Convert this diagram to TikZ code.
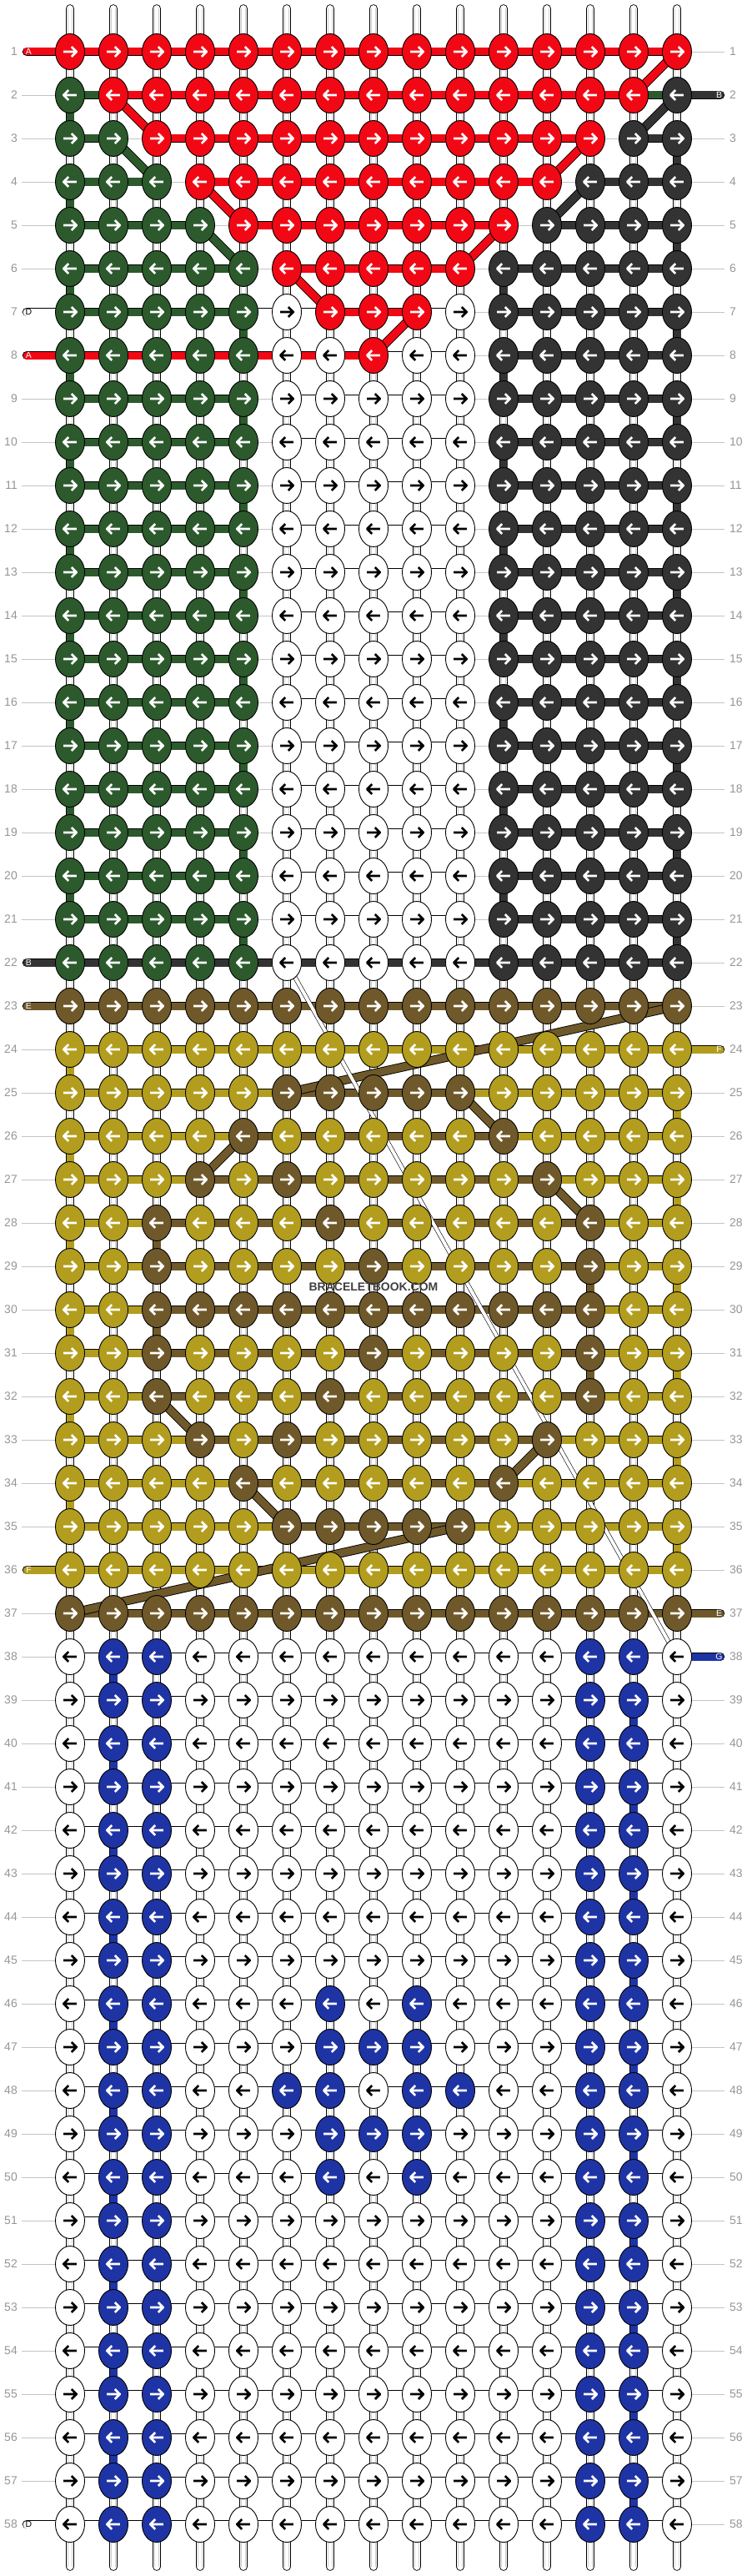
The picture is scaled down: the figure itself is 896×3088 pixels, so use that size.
\documentclass[tikz,border=0pt]{standalone}
\usepackage{fontspec}
\setmainfont{Liberation Sans}
\usetikzlibrary{shapes.geometric}
\definecolor{cR}{RGB}{242,8,20}
\definecolor{cG}{RGB}{44,90,45}
\definecolor{cK}{RGB}{51,51,51}
\definecolor{cW}{RGB}{255,255,255}
\definecolor{cO}{RGB}{178,157,30}
\definecolor{cN}{RGB}{111,89,42}
\definecolor{cB}{RGB}{31,52,164}
\colorlet{aR}{white}\colorlet{aG}{white}\colorlet{aK}{white}
\colorlet{aO}{white}\colorlet{aN}{white}\colorlet{aB}{white}\colorlet{aW}{black}
\definecolor{lblc}{RGB}{150,150,150}
\definecolor{rowlc}{RGB}{196,196,196}
\definecolor{innerc}{RGB}{205,205,205}
\definecolor{wmc}{RGB}{64,64,64}
\def\noneX{X}
\newcommand\knotrow[2]{%
  \foreach \kc [count=\c] in {#2} {%
    \pgfmathtruncatemacro\dir{1-2*mod(#1+1,2)}%
    \node[knot=\kc] (k-#1-\c) at (p-#1-\c) {};
    \draw[arrw, draw=a\kc, shift={(p-#1-\c)}, xscale=\dir] (-7.8,0) -- (7.0,0) (1.8,-6) -- (7.8,0) -- (1.8,6);
  }}
\newcommand\barrow[2]{%
  \foreach \bc [count=\c] in {#2} {%
    \edef\tmpb{\bc}%
    \ifx\tmpb\noneX\else
      \pgfmathtruncatemacro\cn{\c+1}%
      \path[bar=\bc] (p-#1-\c) -- (p-#1-\cn);
    \fi
  }}
\newcommand\vbar[3]{%
  \pgfmathtruncatemacro\rn{#2+1}%
  \path[bar=#1] (p-#2-#3) -- (p-\rn-#3);}
\newcommand\pillL[4]{%
  \coordinate (pl-#1) at (32.2,{10+52*#1});
  \path[bar=#2, line cap=round] (pl-#1) -- (p-#1-1);
  \node[pilltxt, text=#4] (pt-#1) at (34.5,{10+52*#1}) {#3};}
\newcommand\pillR[4]{%
  \coordinate (pr-#1) at (863.8,{10+52*#1});
  \path[bar=#2, line cap=round] (pr-#1) -- (p-#1-15);
  \node[pilltxt, text=#4] (pt-#1) at (862.5,{10+52*#1}) {#3};}
\begin{document}
\begin{tikzpicture}[x=1pt,y=-1pt,
  knot/.style={ellipse, draw=black, line width=0.9pt, fill=c#1, minimum width=35pt, minimum height=43pt, inner sep=0pt, outer sep=0pt},
  bar/.style={draw=black, line width=0.9pt, double=c#1, double distance=9pt},
  arrw/.style={line width=2.7pt, line join=round},
  strand/.style={draw=black, line width=0.9pt, double=white, double distance=8.6pt, line cap=round},
  innerln/.style={draw=innerc, line width=0.6pt},
  rowline/.style={draw=rowlc, line width=0.9pt},
  lbl/.style={text=lblc, font=\fontsize{14}{14}\selectfont, inner sep=0pt},
  pilltxt/.style={font=\fontsize{10.5}{10.5}\selectfont, inner sep=0pt}]
\useasboundingbox (0,0) rectangle (896,3088);
\fill[white] (0,0) rectangle (896,3088);
\foreach \r in {1,...,58}{\foreach \c in {1,...,15}{\coordinate (p-\r-\c) at ({32+52*\c},{10+52*\r});}}
% row lines
\foreach \r in {1,...,58}{\coordinate (bl-\r) at (26,{10+52*\r}); \coordinate (br-\r) at (869,{10+52*\r}); \draw[rowline] (bl-\r) -- (br-\r);}
% vertical strands
\foreach \c in {1,...,15}{
  \coordinate (st-\c) at ({32+52*\c},10.4); \coordinate (sb-\c) at ({32+52*\c},3076.6);
  \path[strand] (st-\c) -- (sb-\c);
  \draw[innerln] ([xshift=-2.7pt]st-\c) -- ([xshift=-2.7pt]sb-\c);
  \draw[innerln] ([xshift=2.7pt]st-\c) -- ([xshift=2.7pt]sb-\c);}
% horizontal bars
\barrow{1}{R,R,R,R,R,R,R,R,R,R,R,R,R,R}
\barrow{2}{G,R,R,R,R,R,R,R,R,R,R,R,R,G}
\barrow{3}{G,X,R,R,R,R,R,R,R,R,R,R,X,K}
\barrow{4}{G,G,X,R,R,R,R,R,R,R,R,X,K,K}
\barrow{5}{G,G,G,X,R,R,R,R,R,R,X,K,K,K}
\barrow{6}{G,G,G,G,X,R,R,R,R,X,K,K,K,K}
\barrow{7}{G,G,G,G,W,W,R,R,W,X,K,K,K,K}
\barrow{8}{R,R,R,R,R,R,R,W,W,X,K,K,K,K}
\foreach \r in {9,...,21}{\barrow{\r}{G,G,G,G,X,W,W,W,W,X,K,K,K,K}}
\barrow{22}{K,K,K,K,K,K,K,K,K,K,K,K,K,K}
\barrow{23}{N,N,N,N,N,N,N,N,N,N,N,N,N,N}
\barrow{24}{O,O,O,O,O,O,O,O,O,O,O,O,O,O}
\barrow{25}{O,O,O,O,O,N,N,N,N,O,O,O,O,O}
\barrow{26}{O,O,O,O,N,N,N,N,N,N,O,O,O,O}
\barrow{27}{O,O,O,N,N,N,N,N,N,N,N,O,O,O}
\foreach \r in {28,...,32}{\barrow{\r}{O,O,N,N,N,N,N,N,N,N,N,N,O,O}}
\barrow{33}{O,O,O,N,N,N,N,N,N,N,N,O,O,O}
\barrow{34}{O,O,O,O,N,N,N,N,N,N,O,O,O,O}
\barrow{35}{O,O,O,O,O,N,N,N,N,O,O,O,O,O}
\barrow{36}{O,O,O,O,O,O,O,O,O,O,O,O,O,O}
\barrow{37}{N,N,N,N,N,N,N,N,N,N,N,N,N,N}
\foreach \r in {38,...,58}{\barrow{\r}{W,W,W,W,W,W,W,W,W,W,W,W,W,W}}
% vertical coloured bars
\foreach \r in {2,4,...,20}{\vbar{G}{\r}{1}}
\foreach \r in {7,9,...,21}{\vbar{G}{\r}{5}}
\foreach \r in {3,5,...,21}{\vbar{K}{\r}{15}}
\foreach \r in {6,8,...,20}{\vbar{K}{\r}{11}}
\foreach \r in {24,26,...,34}{\vbar{O}{\r}{1}}
\foreach \r in {25,27,...,35}{\vbar{O}{\r}{15}}
\vbar{N}{28}{3}\vbar{N}{30}{3}\vbar{N}{29}{13}\vbar{N}{31}{13}
\foreach \r in {38,40,...,56}{\vbar{B}{\r}{2}}
\foreach \r in {39,41,...,57}{\vbar{B}{\r}{14}}
% diagonals
\path[bar=R] (p-1-15) -- (p-2-14);
\path[bar=R] (p-2-2) -- (p-3-3);
\path[bar=R] (p-3-13) -- (p-4-12);
\path[bar=R] (p-4-4) -- (p-5-5);
\path[bar=R] (p-5-11) -- (p-6-10);
\path[bar=R] (p-6-6) -- (p-7-7);
\path[bar=R] (p-7-9) -- (p-8-8);
\path[bar=G] (p-3-2) -- (p-4-3);
\path[bar=G] (p-5-4) -- (p-6-5);
\path[bar=K] (p-2-15) -- (p-3-14);
\path[bar=K] (p-4-13) -- (p-5-12);
\path[bar=N] (p-23-15) -- (p-25-6);
\path[bar=N] (p-25-10) -- (p-26-11);
\path[bar=N] (p-26-5) -- (p-27-4);
\path[bar=N] (p-27-12) -- (p-28-13);
\path[bar=N] (p-32-3) -- (p-33-4);
\path[bar=N] (p-33-12) -- (p-34-11);
\path[bar=N] (p-34-5) -- (p-35-6);
\path[bar=N] (p-35-10) -- (p-37-1);
% thin strip
\path[draw=black, line width=0.6pt, double=white, double distance=4pt] (p-22-6) -- (p-38-15);
% pills
\pillL{1}{R}{A}{white}
\pillL{7}{W}{D}{black}
\pillL{8}{R}{A}{white}
\pillL{22}{K}{B}{white}
\pillL{23}{N}{E}{white}
\pillL{36}{O}{F}{white}
\pillL{58}{W}{D}{black}
\pillR{2}{K}{B}{white}
\pillR{24}{O}{F}{white}
\pillR{37}{N}{E}{white}
\pillR{38}{B}{G}{white}
% knots
\knotrow{1}{R,R,R,R,R,R,R,R,R,R,R,R,R,R,R}
\knotrow{2}{G,R,R,R,R,R,R,R,R,R,R,R,R,R,K}
\knotrow{3}{G,G,R,R,R,R,R,R,R,R,R,R,R,K,K}
\knotrow{4}{G,G,G,R,R,R,R,R,R,R,R,R,K,K,K}
\knotrow{5}{G,G,G,G,R,R,R,R,R,R,R,K,K,K,K}
\knotrow{6}{G,G,G,G,G,R,R,R,R,R,K,K,K,K,K}
\knotrow{7}{G,G,G,G,G,W,R,R,R,W,K,K,K,K,K}
\knotrow{8}{G,G,G,G,G,W,W,R,W,W,K,K,K,K,K}
\foreach \r in {9,...,22}{\knotrow{\r}{G,G,G,G,G,W,W,W,W,W,K,K,K,K,K}}
\knotrow{23}{N,N,N,N,N,N,N,N,N,N,N,N,N,N,N}
\knotrow{24}{O,O,O,O,O,O,O,O,O,O,O,O,O,O,O}
\foreach \r in {25,35}{\knotrow{\r}{O,O,O,O,O,N,N,N,N,N,O,O,O,O,O}}
\foreach \r in {26,34}{\knotrow{\r}{O,O,O,O,N,O,O,O,O,O,N,O,O,O,O}}
\foreach \r in {27,33}{\knotrow{\r}{O,O,O,N,O,N,O,O,O,O,O,N,O,O,O}}
\foreach \r in {28,32}{\knotrow{\r}{O,O,N,O,O,O,N,O,O,O,O,O,N,O,O}}
\foreach \r in {29,31}{\knotrow{\r}{O,O,N,O,O,O,O,N,O,O,O,O,N,O,O}}
\knotrow{30}{O,O,N,N,N,N,N,N,N,N,N,N,N,O,O}
\knotrow{36}{O,O,O,O,O,O,O,O,O,O,O,O,O,O,O}
\knotrow{37}{N,N,N,N,N,N,N,N,N,N,N,N,N,N,N}
\foreach \r in {38,39,40,41,42,43,44,45,51,52,53,54,55,56,57,58}{\knotrow{\r}{W,B,B,W,W,W,W,W,W,W,W,W,B,B,W}}
\foreach \r in {46,50}{\knotrow{\r}{W,B,B,W,W,W,B,W,B,W,W,W,B,B,W}}
\foreach \r in {47,49}{\knotrow{\r}{W,B,B,W,W,W,B,B,B,W,W,W,B,B,W}}
\knotrow{48}{W,B,B,W,W,B,B,W,B,B,W,W,B,B,W}
% row labels
\foreach \r in {1,...,58}{
  \node[lbl, anchor=east] (ll-\r) at (21,{10+52*\r}) {\r};
  \node[lbl, anchor=west] (rl-\r) at (875,{10+52*\r}) {\r};}
% watermark
\node[text=wmc, font=\bfseries\fontsize{14}{14}\selectfont, inner sep=0pt] (wm) at (448,1543) {BRACELETBOOK.COM};
\end{tikzpicture}
\end{document}
